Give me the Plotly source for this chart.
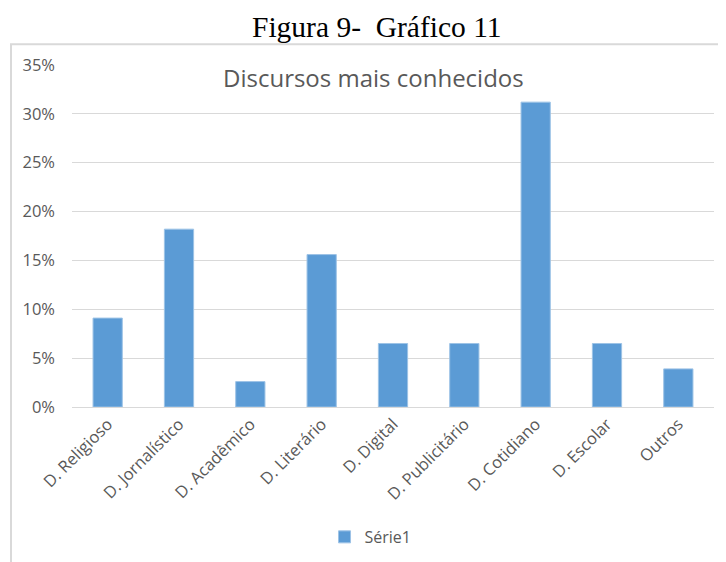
import plotly.graph_objects as go

categories = ["D. Religioso", "D. Jornalístico", "D. Acadêmico", "D. Literário",
              "D. Digital", "D. Publicitário", "D. Cotidiano", "D. Escolar", "Outros"]
values = [0.091, 0.182, 0.026, 0.156, 0.065, 0.065, 0.312, 0.065, 0.039]
series_name = "Série1"
y_ticks = [0, 0.05, 0.10, 0.15, 0.20, 0.25, 0.30, 0.35]

GRAY_TXT = "#595959"
GRID = "#d9d9d9"
BAR = "#5B9BD5"
FONT = "Open Sans"

fig = go.Figure()
fig.add_trace(go.Bar(
    x=categories, y=values, name=series_name,
    marker=dict(color=BAR, line=dict(color="#9DC3E6", width=1)),
    showlegend=True,
))

# outer chart frame (light grey, runs off the right/bottom edge like the source)
fig.add_shape(type="rect", xref="paper", yref="paper",
              x0=-0.095, x1=1.2, y0=-0.6, y1=1.061,
              line=dict(color=GRID, width=2), fillcolor="rgba(0,0,0,0)", layer="below")

fig.add_annotation(text="Figura 9-  Gráfico 11", xref="paper", yref="paper",
                   x=0.4745, y=1.11, xanchor="center", yanchor="middle", showarrow=False,
                   font=dict(family="Liberation Serif", size=29.5, color="#000000"))
fig.add_annotation(text="Discursos mais conhecidos", xref="paper", yref="paper",
                   x=0.469, y=0.963, xanchor="center", yanchor="middle", showarrow=False,
                   font=dict(family=FONT, size=24, color=GRAY_TXT))

# page body adds an 8px offset, so margins are shifted to land the plot at x 72-714, y 65-407
fig.update_layout(
    width=726, height=562,
    margin=dict(l=64, r=20, t=57, b=163),
    paper_bgcolor="white", plot_bgcolor="white",
    bargap=0.59,
    font=dict(family=FONT, color=GRAY_TXT, size=16),
    legend=dict(orientation="h", x=0.465, xanchor="center", y=-0.38, yanchor="middle",
                font=dict(size=16, color=GRAY_TXT), itemwidth=30),
    xaxis=dict(tickangle=-45, showline=True, linecolor=GRID, linewidth=1,
               ticks="", automargin=False, tickfont=dict(size=16.5, color=GRAY_TXT)),
    yaxis=dict(range=[0, 0.35], tickvals=y_ticks, tickformat=".0%",
               gridcolor=GRID, gridwidth=1, zeroline=False, showline=False,
               ticks="", ticklabelstandoff=16, automargin=False,
               tickfont=dict(size=16.5, color=GRAY_TXT)),
)

fig.write_html("out.html")
